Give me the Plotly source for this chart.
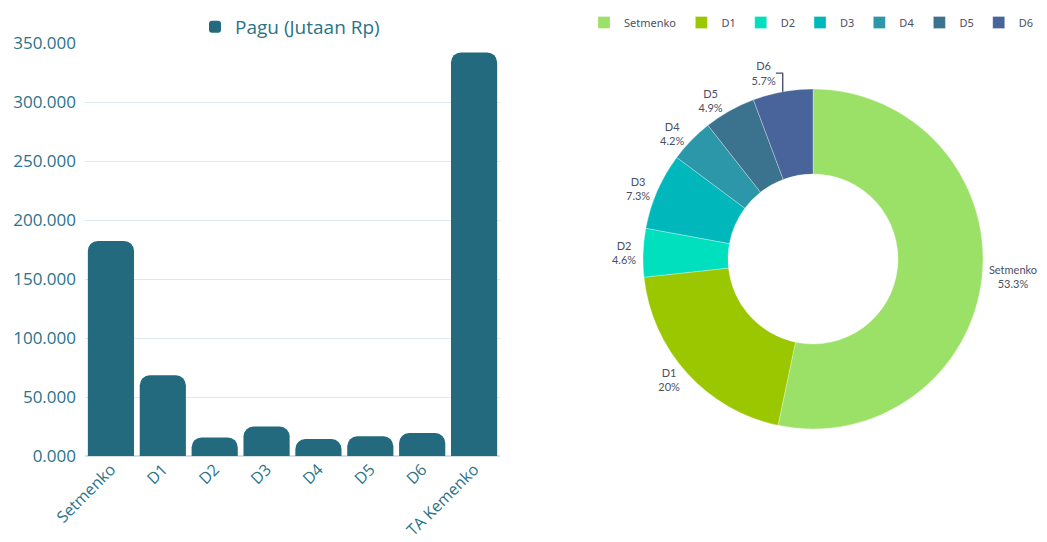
import plotly.graph_objects as go

categories = ["Setmenko", "D1", "D2", "D3", "D4", "D5", "D6", "TA Kemenko"]
pagu_values = [182300, 68400, 15740, 24970, 14370, 16760, 19500, 342040]

pie_labels = ["Setmenko", "D1", "D2", "D3", "D4", "D5", "D6"]
pie_values = [182300, 68400, 15740, 24970, 14370, 16760, 19500]
pie_colors = ["#9ce167", "#9bc700", "#00dfbe", "#00b8bc", "#2b97a9", "#3b738f", "#48649b"]

y_tickvals = [0, 50000, 100000, 150000, 200000, 250000, 300000, 350000]
y_ticktext = ["0.000", "50.000", "100.000", "150.000", "200.000", "250.000", "300.000", "350.000"]

# page body has an 8px margin, so the figure is sized to fit the window
OFF = 8
W, H = 1047 - 2 * OFF, 542 - 2 * OFF


def fx(px):
    return (px - OFF) / W


def fy(py):
    return (H - (py - OFF)) / H


bar_color = "#236a7e"
axis_text = "#2b7389"
pie_text = "#4a4f66"

fig = go.Figure()

fig.add_trace(go.Bar(
    x=categories, y=pagu_values, name="Pagu (Jutaan Rp)",
    marker=dict(color=bar_color, cornerradius=10, line=dict(width=0)),
    showlegend=True, legend="legend",
))

fig.add_trace(go.Pie(
    labels=pie_labels, values=pie_values, hole=0.5, sort=False,
    direction="clockwise", rotation=0, automargin=False,
    marker=dict(colors=pie_colors, line=dict(color="white", width=0.3)),
    textinfo="label+percent", textposition="outside",
    textfont=dict(family="Lato", size=11, color=pie_text),
    domain=dict(x=[fx(643), fx(983)], y=[fy(429), fy(89)]),
    legend="legend2", showlegend=True,
))

fig.update_layout(
    width=W, height=H,
    margin=dict(l=0, r=0, t=0, b=0, autoexpand=False),
    paper_bgcolor="white", plot_bgcolor="white",
    font=dict(family="Open Sans", color=axis_text),
    bargap=0.11,
    xaxis=dict(
        domain=[fx(85), fx(500)], tickangle=-45, automargin=False,
        tickfont=dict(family="Open Sans", size=16, color=axis_text),
        showgrid=False, showline=False, zeroline=False, ticks="",
    ),
    yaxis=dict(
        domain=[fy(456), fy(43)], range=[0, 350000], automargin=False,
        tickvals=y_tickvals, ticktext=y_ticktext,
        tickfont=dict(family="Open Sans", size=17, color=axis_text),
        showgrid=True, gridcolor="#dfe8ec", gridwidth=1,
        zeroline=True, zerolinecolor="#d5e0e5", zerolinewidth=2,
        showline=False, ticks="", ticklabelstandoff=8,
    ),
    legend=dict(
        orientation="h", x=fx(290), xanchor="center", y=1, yanchor="top",
        font=dict(family="Open Sans", size=19, color=axis_text),
        bgcolor="rgba(0,0,0,0)",
    ),
    legend2=dict(
        orientation="h", x=1, xanchor="right", y=1, yanchor="top",
        font=dict(family="Noto Sans", size=11, color=pie_text),
        bgcolor="rgba(0,0,0,0)", itemwidth=30,
    ),
)

fig.write_html("out.html")
